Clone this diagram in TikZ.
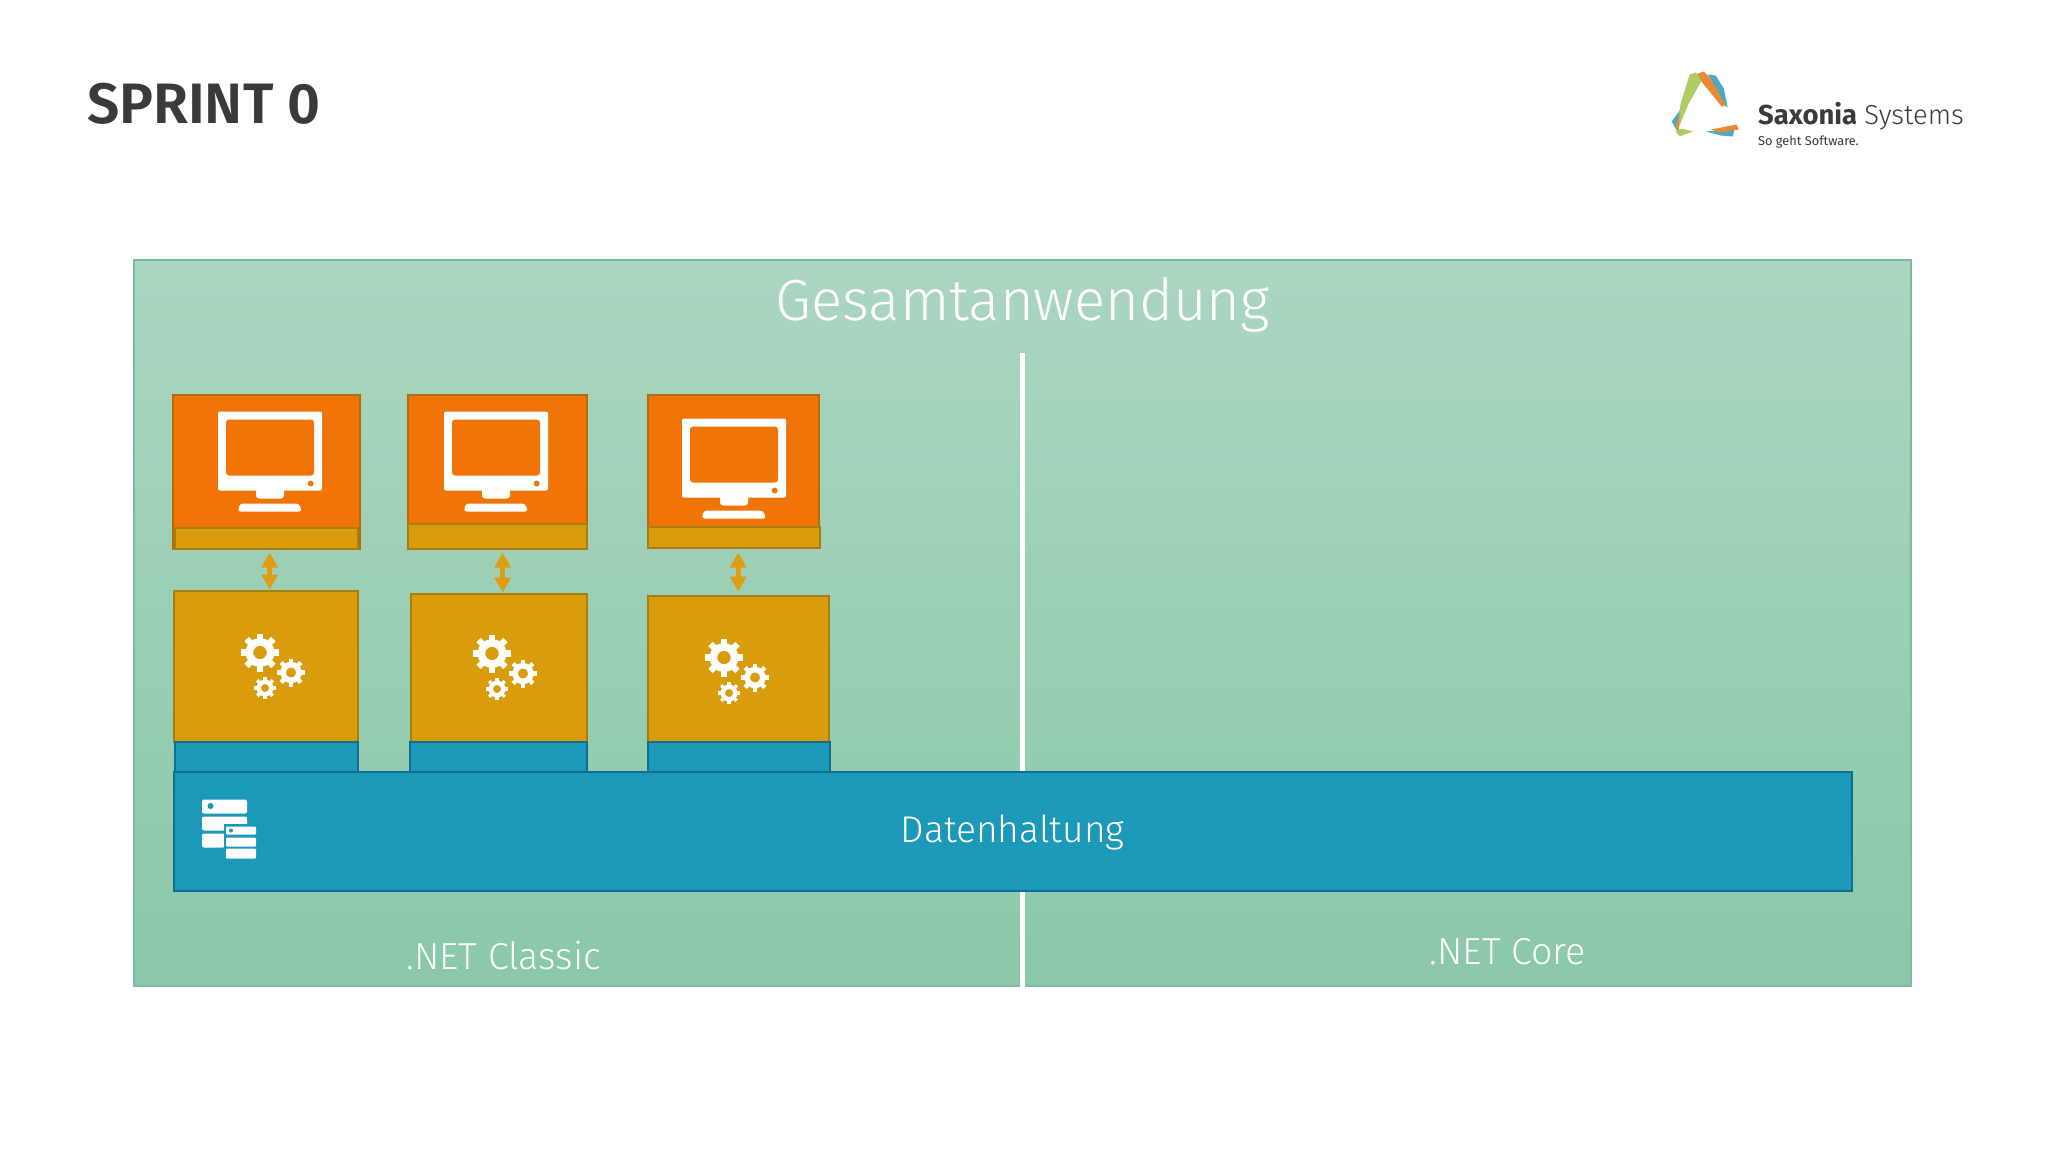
\documentclass[tikz,border=0pt]{standalone}
\usepackage{fontspec}
\setmainfont{Fira Sans}
\newfontfamily\lightf{Fira Sans Light}
\newfontfamily\boldf{Fira Sans SemiBold}
\usetikzlibrary{arrows.meta}
\definecolor{panT}{HTML}{ABD6C1}
\definecolor{panB}{HTML}{8AC8A9}
\definecolor{panL}{HTML}{7DBBA0}
\definecolor{org}{HTML}{F07406}
\definecolor{orgL}{HTML}{B56A0C}
\definecolor{gld}{HTML}{D89C0C}
\definecolor{gldL}{HTML}{A87E10}
\definecolor{blu}{HTML}{1C99B8}
\definecolor{bluL}{HTML}{0E6F8E}
\definecolor{arr}{HTML}{DE9E14}
\definecolor{ink}{HTML}{3A3A3A}
\definecolor{lgG}{HTML}{AFCB66}
\definecolor{lgO}{HTML}{E88A34}
\definecolor{lgB}{HTML}{4BAACB}
\tikzset{
 orgbox/.style={draw=orgL,fill=org,line width=1pt,inner sep=0pt},
 gldbox/.style={draw=gldL,fill=gld,line width=1pt,inner sep=0pt},
 blubox/.style={draw=bluL,fill=blu,line width=1pt,inner sep=0pt},
 dblarrow/.style={draw=arr,line width=2.4pt,{Triangle[length=7.5pt,width=8pt]}-{Triangle[length=7.5pt,width=8pt]}},
 whitetext/.style={text=white,inner sep=0pt},
}
\newcommand\bx[6]{\pgfmathsetmacro\bxw{(#4-#2)*0.5}\pgfmathsetmacro\bxh{(#5-#3)*0.5}%
 \node[#6,anchor=north west,minimum width=\bxw pt,minimum height=\bxh pt] (#1) at (#2,#3) {};}
\newcommand\monitor[2]{\begin{scope}[shift={(#1,#2)}]
 \fill[white,rounded corners=1pt] (0,0) rectangle (104,79);
 \fill[org,rounded corners=1.5pt] (8,8) rectangle (96,64);
 \fill[org] (92.7,72) circle (3);
 \fill[white,rounded corners=1.5pt] (38,76) rectangle (66,87);
 \fill[white,rounded corners=1.5pt] (19.5,100) -- (22,92) -- (81,92) -- (84,100) -- cycle;
\end{scope}}
\newcommand\gear[3]{\begin{scope}[shift={(#1,#2)}]
 \draw[white,line width=#3*0.2pt] (0,0) circle ({#3*0.56});
 \foreach \a in {0,45,...,315}
   \draw[white,line width=#3*0.16pt] (\a:{#3*0.6}) -- (\a:{#3});
\end{scope}}
\newcommand\gears[2]{\gear{#1}{#2}{19}\gear{#1+31}{#2+20}{14}\gear{#1+5}{#2+35.5}{11}}
\begin{document}
\begin{tikzpicture}[x=0.5pt,y=-0.5pt]
\useasboundingbox (1.3,0.5) rectangle (2049.3,1152.5);
\fill[white] (1.3,0.5) rectangle (2049.3,1152.5);
\node[anchor=west,inner sep=0pt,text=ink,font=\boldf\fontsize{28.5}{30}\selectfont] (title) at (88,104.5) {SPRINT 0};
% logo
\fill[lgB] (1709,75) -- (1717,76) -- (1725,89) -- (1729,108) -- (1725,105) -- cycle;
\fill[lgO] (1697,75) -- (1705,72) -- (1712,79) -- (1727,106) -- (1723,107) -- cycle;
\fill[lgG] (1691,75) -- (1697,73) -- (1703,81) -- (1690,104) -- (1680,128) -- (1677,131) -- (1682,104) -- cycle;
\fill[lgB] (1673,122) -- (1681,111) -- (1678,131) -- cycle;
\fill[lgO] (1677,126) -- (1681,114) -- (1680,135) -- cycle;
\fill[lgG] (1677,132) -- (1683,129) -- (1694,132) -- (1681,137) -- cycle;
\fill[lgB] (1707,132) -- (1736,129) -- (1734,137) -- (1722,136) -- cycle;
\fill[lgO] (1712,130) -- (1738,125) -- (1740,130) -- (1722,133) -- cycle;
\node[anchor=base west,inner sep=0pt,text=ink,font=\fontsize{13.7}{16}\selectfont] (logotext) at (1759,125) {\textbf{Saxonia} {\lightf Systems}};
\node[anchor=base west,inner sep=0pt,text=ink,font=\fontsize{6.4}{8}\selectfont] (logosub) at (1759,146) {So geht Software.};
% panel
\node[draw=panL,line width=1pt,top color=panT,bottom color=panB,minimum width=888.5pt,minimum height=363pt,anchor=north west,inner sep=0pt] (panel) at (134,259) {};
\node[whitetext,font=\lightf\fontsize{29}{32}\selectfont] (gesamt) at (1024,305) {Gesamtanwendung};
\coordinate (divtop) at (1024,353);
\draw[white,line width=2.7pt] (divtop) -- (divtop |- panel.south);
% screens
\bx{s1}{173}{394}{360}{548}{orgbox}
\bx{st1}{175}{527}{358}{548}{gldbox}
\bx{s2}{408}{394}{587}{548}{orgbox}
\bx{st2}{408.5}{523}{587}{548}{gldbox}
\bx{s3}{648}{394}{819}{547}{orgbox}
\bx{st3}{648}{526}{820}{547}{gldbox}
\monitor{219.3}{412}
\monitor{445.3}{412}
\monitor{683.3}{419}
% logic
\bx{g1}{174}{590}{358}{741}{gldbox}
\bx{g2}{411}{593}{587}{741}{gldbox}
\bx{g3}{648}{595}{829}{741}{gldbox}
\gears{261.3}{653}
\gears{493.3}{654}
\gears{725.3}{658}
% data columns
\bx{b1}{175}{741}{358}{772}{blubox}
\bx{b2}{410}{741}{587}{772}{blubox}
\bx{b3}{648}{741}{830}{772}{blubox}
\bx{data}{174}{771}{1852}{890}{blubox}
% arrows
\draw[dblarrow] ([xshift=2pt]g1.north) -- ([xshift=2pt,yshift=-1.5pt]g1.north |- st1.south);
\draw[dblarrow] ([xshift=2pt]g2.north) -- ([xshift=2pt,yshift=-1.5pt]g2.north |- st2.south);
\draw[dblarrow] ([xshift=0pt,yshift=1.5pt]g3.north) -- ([xshift=0pt,yshift=-2pt]g3.north |- st3.south);
% db icon
\begin{scope}[shift={(203.3,800)}]
 \fill[white,rounded corners=1pt] (0,0) rectangle (45,14);
 \fill[blu] (8.5,6.5) circle (3);
 \fill[white,rounded corners=1pt] (0,17) rectangle (45,31);
 \fill[white,rounded corners=1pt] (0,34) rectangle (23,48);
 \fill[blu] (22,24) rectangle (55,60);
 \fill[white,rounded corners=.5pt] (24,27) rectangle (54,35);
 \fill[blu] (29,31) circle (2);
 \fill[white,rounded corners=.5pt] (24,38) rectangle (54,47);
 \fill[white,rounded corners=.5pt] (24,49) rectangle (54,59);
\end{scope}
\node[whitetext,font=\lightf\fontsize{18.6}{22}\selectfont] (dtext) at (1014,833) {Datenhaltung};
\node[whitetext,font=\lightf\fontsize{18.8}{22}\selectfont] (classic) at (505,956) {.NET Classic};
\node[whitetext,font=\lightf\fontsize{18.8}{22}\selectfont] (core) at (1509,952) {.NET Core};
\end{tikzpicture}
\end{document}
